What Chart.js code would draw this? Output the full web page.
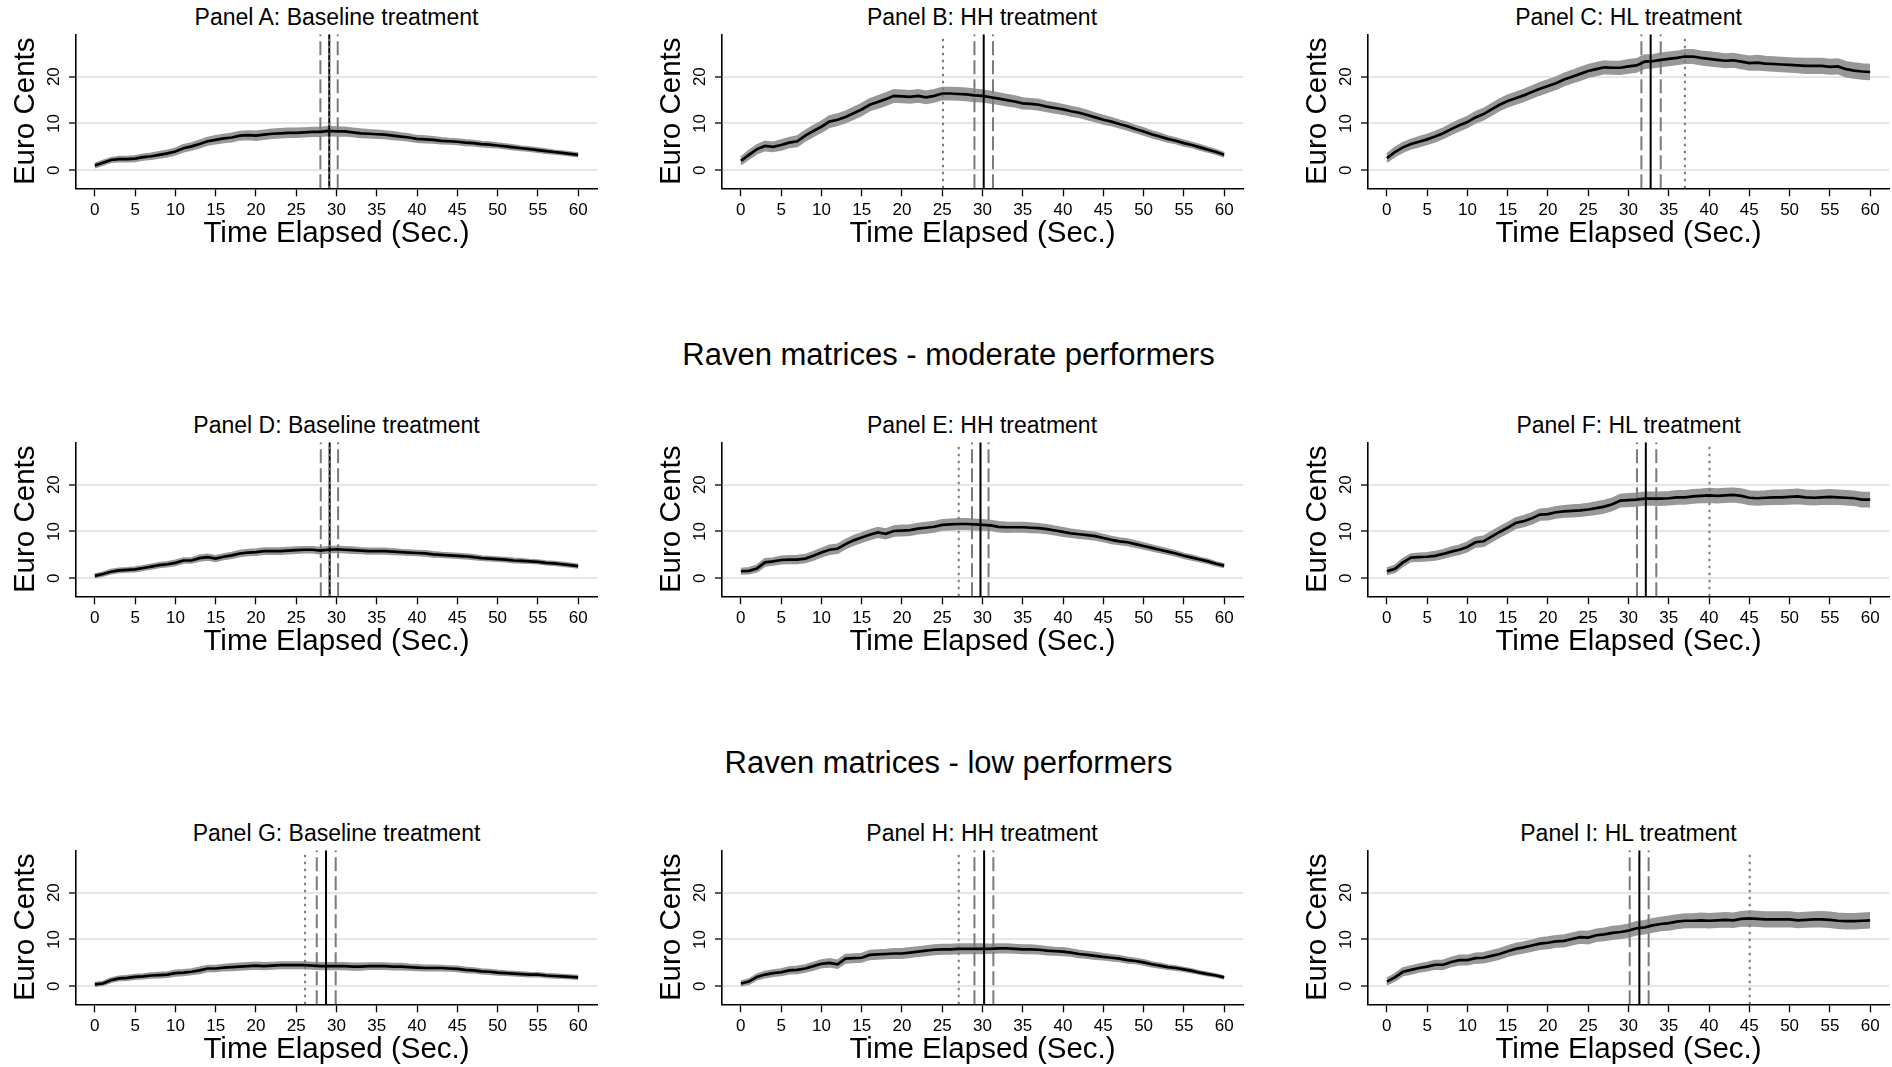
<!DOCTYPE html>
<html>
<head>
<meta charset="utf-8">
<script src="https://cdn.jsdelivr.net/npm/chart.js@4.4.1/dist/chart.umd.min.js"></script>
<style>
  html, body { margin: 0; padding: 0; background: #fff; }
  body { width: 1892px; height: 1067px; overflow: hidden; position: relative; font-family: 'Liberation Sans', Arial, sans-serif; color: #000; }
  .panel { position: absolute; }
  .ttl { position: absolute; transform: translate(-50%, -50%); white-space: nowrap; line-height: 1; }
  .ptitle { font-size: 23px; }
  .stitle { font-size: 31px; }
</style>
</head>
<body>
<script>
// ---------- DATA ----------
const TIME = [0,1,2,3,4,5,6,7,8,9,10,11,12,13,14,15,16,17,18,19,20,21,22,23,24,25,26,27,28,29,30,
              31,32,33,34,35,36,37,38,39,40,41,42,43,44,45,46,47,48,49,50,51,52,53,54,55,56,57,58,59,60];
const X_TICKS = [0,5,10,15,20,25,30,35,40,45,50,55,60];
const Y_TICKS = [0,10,20];

const SECTION_TITLES = ["Raven matrices - moderate performers", "Raven matrices - low performers"];
const PANEL_TITLES = ["Panel A: Baseline treatment","Panel B: HH treatment","Panel C: HL treatment",
                      "Panel D: Baseline treatment","Panel E: HH treatment","Panel F: HL treatment",
                      "Panel G: Baseline treatment","Panel H: HH treatment","Panel I: HL treatment"];

// mean earnings (Euro cents) per second
const MEAN_A = [1.0,1.6,2.2,2.4,2.4,2.5,2.8,3.0,3.3,3.6,4.0,4.7,5.1,5.6,6.2,6.5,6.8,7.0,7.4,7.5,7.4,7.6,7.8,7.9,8.0,8.0,8.1,8.2,8.2,8.4,8.3,
                8.3,8.1,7.9,7.8,7.7,7.6,7.4,7.2,7.0,6.7,6.6,6.5,6.3,6.2,6.1,5.9,5.8,5.6,5.5,5.3,5.1,4.9,4.7,4.5,4.3,4.1,3.9,3.7,3.5,3.3];
const MEAN_B = [2.0,3.3,4.5,5.2,5.0,5.4,5.9,6.2,7.4,8.4,9.3,10.4,10.8,11.4,12.2,13.0,14.0,14.6,15.2,15.9,15.8,15.7,15.9,15.6,15.9,16.4,16.4,16.3,16.2,16.0,15.9,
                15.6,15.3,15.0,14.7,14.3,14.2,14.0,13.6,13.3,13.0,12.6,12.3,11.8,11.3,10.8,10.4,9.9,9.4,8.8,8.3,7.7,7.2,6.7,6.3,5.8,5.4,4.9,4.4,3.9,3.3];
const MEAN_C = [2.6,3.9,4.9,5.6,6.1,6.6,7.2,7.9,8.8,9.6,10.3,11.3,12.0,13.0,14.0,14.8,15.4,16.0,16.7,17.4,18.0,18.6,19.4,20.0,20.6,21.2,21.6,22.0,21.9,21.9,22.2,
                22.4,23.2,23.3,23.6,23.8,24.0,24.3,24.3,24.0,23.8,23.6,23.4,23.5,23.2,22.9,23.0,22.8,22.7,22.6,22.5,22.4,22.3,22.3,22.3,22.1,22.2,21.6,21.3,21.1,21.0];
const MEAN_D = [0.5,0.9,1.4,1.7,1.8,1.9,2.2,2.5,2.8,3.0,3.3,3.8,3.8,4.3,4.5,4.2,4.6,4.9,5.3,5.5,5.6,5.8,5.8,5.8,5.9,6.0,6.1,6.1,5.9,6.1,6.2,
                6.1,6.0,5.9,5.8,5.8,5.8,5.7,5.6,5.5,5.4,5.3,5.1,5.0,4.9,4.8,4.7,4.5,4.3,4.2,4.1,4.0,3.8,3.7,3.6,3.5,3.3,3.2,3.0,2.8,2.6];
const MEAN_E = [1.5,1.6,2.1,3.4,3.6,3.9,4.0,4.0,4.2,4.8,5.5,6.1,6.3,7.3,8.1,8.7,9.3,9.8,9.5,10.1,10.2,10.3,10.6,10.8,11.0,11.4,11.5,11.6,11.6,11.5,11.4,
                11.3,11.0,10.9,10.9,10.9,10.8,10.7,10.5,10.2,9.9,9.6,9.4,9.2,9.0,8.6,8.2,7.9,7.7,7.3,6.9,6.5,6.1,5.7,5.3,4.8,4.4,4.0,3.6,3.1,2.7];
const MEAN_F = [1.5,2.0,3.4,4.4,4.5,4.6,4.8,5.2,5.7,6.1,6.7,7.7,7.9,8.9,9.9,10.8,11.8,12.2,12.8,13.6,13.7,14.1,14.3,14.4,14.5,14.7,15.0,15.3,15.8,16.6,16.7,
                16.8,17.0,17.0,17.0,17.1,17.3,17.3,17.5,17.6,17.7,17.6,17.7,17.8,17.6,17.2,17.1,17.2,17.3,17.3,17.4,17.5,17.3,17.2,17.3,17.4,17.3,17.2,17.1,16.8,16.8];
const MEAN_G = [0.4,0.6,1.3,1.7,1.8,2.0,2.1,2.3,2.4,2.5,2.8,2.9,3.1,3.4,3.8,3.8,4.0,4.1,4.2,4.3,4.4,4.3,4.4,4.5,4.5,4.5,4.5,4.4,4.3,4.3,4.3,
                4.3,4.2,4.2,4.3,4.3,4.3,4.2,4.2,4.1,4.0,3.9,3.9,3.9,3.8,3.7,3.5,3.4,3.2,3.1,2.9,2.8,2.7,2.6,2.5,2.5,2.3,2.2,2.1,2.0,1.9];
const MEAN_H = [0.6,1.0,2.0,2.5,2.8,3.0,3.4,3.5,3.8,4.3,4.8,5.0,4.7,5.9,6.0,6.1,6.7,6.8,6.9,7.0,7.0,7.2,7.4,7.6,7.8,7.9,7.9,8.0,8.0,8.0,8.0,
                8.0,8.1,8.1,8.0,7.9,7.9,7.8,7.6,7.5,7.4,7.2,6.9,6.7,6.5,6.3,6.1,5.9,5.6,5.4,5.1,4.7,4.4,4.1,3.9,3.6,3.3,2.9,2.6,2.3,1.9];
const MEAN_I = [1.0,1.9,3.1,3.5,3.9,4.2,4.6,4.6,5.2,5.6,5.6,6.0,6.1,6.5,6.9,7.5,8.0,8.3,8.7,9.1,9.3,9.6,9.7,10.1,10.5,10.4,10.9,11.1,11.4,11.6,11.9,
                12.4,12.6,13.0,13.3,13.5,13.8,14.0,14.0,14.1,14.0,14.1,14.2,14.1,14.4,14.5,14.4,14.3,14.3,14.3,14.3,14.1,14.2,14.3,14.3,14.2,14.0,13.9,13.9,14.0,14.1];

// half-width of the confidence band per second
const HW_A = [0.35,0.4,0.4,0.45,0.45,0.5,0.5,0.55,0.55,0.6,0.6,0.65,0.65,0.7,0.7,0.75,0.75,0.8,0.8,0.8,0.85,0.85,0.85,0.85,0.85,0.85,0.85,0.85,0.85,0.85,0.85,
              0.8,0.8,0.8,0.75,0.75,0.7,0.7,0.65,0.65,0.6,0.6,0.55,0.55,0.5,0.5,0.5,0.45,0.45,0.45,0.4,0.4,0.4,0.35,0.35,0.35,0.35,0.3,0.3,0.3,0.3];
const HW_B = [0.7,0.8,0.85,0.9,0.9,0.95,0.95,1.0,1.0,1.05,1.05,1.1,1.1,1.1,1.15,1.15,1.15,1.2,1.2,1.2,1.2,1.2,1.2,1.2,1.2,1.2,1.2,1.2,1.2,1.2,1.15,
              1.15,1.1,1.1,1.05,1.05,1.0,1.0,0.95,0.95,0.9,0.9,0.85,0.85,0.8,0.8,0.75,0.7,0.7,0.65,0.65,0.6,0.6,0.55,0.5,0.5,0.45,0.45,0.4,0.4,0.35];
const HW_C = [0.8,0.85,0.9,0.9,0.95,0.95,1.0,1.0,1.0,1.05,1.05,1.05,1.1,1.1,1.1,1.15,1.15,1.15,1.15,1.2,1.2,1.2,1.2,1.2,1.25,1.25,1.25,1.25,1.25,1.3,1.3,
              1.3,1.3,1.3,1.3,1.3,1.3,1.35,1.35,1.35,1.35,1.35,1.35,1.35,1.35,1.35,1.4,1.4,1.4,1.4,1.4,1.4,1.45,1.45,1.45,1.45,1.45,1.5,1.5,1.5,1.5];
const HW_D = [0.3,0.3,0.35,0.35,0.35,0.4,0.4,0.4,0.4,0.45,0.45,0.45,0.45,0.5,0.5,0.5,0.5,0.5,0.55,0.55,0.55,0.55,0.55,0.55,0.55,0.55,0.55,0.55,0.55,0.55,0.55,
              0.55,0.55,0.5,0.5,0.5,0.5,0.5,0.45,0.45,0.45,0.45,0.45,0.4,0.4,0.4,0.4,0.4,0.35,0.35,0.35,0.35,0.35,0.35,0.3,0.3,0.3,0.3,0.3,0.3,0.3];
const HW_E = [0.5,0.55,0.6,0.65,0.65,0.7,0.7,0.75,0.75,0.8,0.8,0.85,0.85,0.85,0.9,0.9,0.9,0.95,0.95,0.95,1.0,1.0,1.0,1.0,1.0,1.0,1.0,1.0,1.0,1.0,1.0,
              0.95,0.95,0.95,0.9,0.9,0.9,0.85,0.85,0.8,0.8,0.75,0.75,0.7,0.7,0.65,0.65,0.6,0.6,0.55,0.55,0.5,0.5,0.45,0.45,0.4,0.4,0.35,0.35,0.3,0.3];
const HW_F = [0.6,0.65,0.7,0.7,0.75,0.75,0.8,0.8,0.85,0.85,0.9,0.9,0.95,0.95,1.0,1.0,1.0,1.05,1.05,1.05,1.1,1.1,1.1,1.15,1.15,1.15,1.2,1.2,1.2,1.2,1.25,
              1.25,1.25,1.25,1.3,1.3,1.3,1.3,1.3,1.3,1.35,1.35,1.35,1.35,1.35,1.35,1.35,1.35,1.4,1.4,1.4,1.4,1.4,1.4,1.4,1.4,1.4,1.4,1.4,1.4,1.4];
const HW_G = [0.3,0.3,0.35,0.35,0.4,0.4,0.4,0.45,0.45,0.45,0.5,0.5,0.5,0.55,0.55,0.55,0.55,0.6,0.6,0.6,0.6,0.6,0.6,0.6,0.6,0.6,0.6,0.6,0.6,0.6,0.6,
              0.6,0.6,0.6,0.55,0.55,0.55,0.55,0.55,0.5,0.5,0.5,0.5,0.45,0.45,0.45,0.45,0.4,0.4,0.4,0.4,0.35,0.35,0.35,0.35,0.3,0.3,0.3,0.3,0.3,0.3];
const HW_H = [0.4,0.45,0.5,0.55,0.55,0.6,0.6,0.65,0.65,0.7,0.7,0.75,0.75,0.8,0.8,0.8,0.85,0.85,0.85,0.9,0.9,0.9,0.9,0.9,0.9,0.9,0.9,0.9,0.9,0.9,0.9,
              0.85,0.85,0.85,0.8,0.8,0.8,0.75,0.75,0.7,0.7,0.65,0.65,0.6,0.6,0.55,0.55,0.5,0.5,0.45,0.45,0.4,0.4,0.35,0.35,0.3,0.3,0.25,0.25,0.2,0.2];
const HW_I = [0.6,0.65,0.7,0.75,0.75,0.8,0.8,0.85,0.85,0.9,0.9,0.95,0.95,1.0,1.0,1.0,1.05,1.05,1.05,1.1,1.1,1.1,1.15,1.15,1.15,1.2,1.2,1.2,1.25,1.25,1.25,
              1.3,1.3,1.3,1.3,1.35,1.35,1.35,1.35,1.4,1.4,1.4,1.4,1.4,1.4,1.45,1.45,1.45,1.45,1.45,1.45,1.45,1.45,1.45,1.5,1.5,1.5,1.5,1.5,1.5,1.5];

// vertical reference lines (seconds): [dashed low, solid, dashed high, dotted]
const VL_A = [28.0, 29.1, 30.15, 29.1];
const VL_B = [29.0, 30.15, 31.3, 25.1];
const VL_C = [31.6, 32.75, 34.0, 37.0];
const VL_D = [28.05, 29.15, 30.2, 29.15];
const VL_E = [28.7, 29.75, 30.75, 27.05];
const VL_F = [31.05, 32.15, 33.45, 40.05];
const VL_G = [27.55, 28.7, 29.9, 26.1];
const VL_H = [29.0, 30.2, 31.35, 27.05];
const VL_I = [30.15, 31.35, 32.5, 45.05];

const MEANS = [MEAN_A, MEAN_B, MEAN_C, MEAN_D, MEAN_E, MEAN_F, MEAN_G, MEAN_H, MEAN_I];
const HWS   = [HW_A, HW_B, HW_C, HW_D, HW_E, HW_F, HW_G, HW_H, HW_I];
const VLS   = [VL_A, VL_B, VL_C, VL_D, VL_E, VL_F, VL_G, VL_H, VL_I];

// ---------- LAYOUT ----------
const X_MIN = -2.34, X_MAX = 62.34, Y_MIN = -3.85, Y_MAX = 29.05;
const COL_AXIS = [76, 721.5, 1368];
const PLOT_W = 521;
const ROW_STEP = 408;
const PLOT_TOP = 34.3, PLOT_BOTTOM = 188.3;
const CANVAS_H = 252;
const LEFT_W = 76, RIGHT_PAD = 3;
const FONT = "'Liberation Sans', Arial, sans-serif";
const BAND = '#989898';

Chart.defaults.font.family = FONT;
Chart.defaults.color = '#000';

function addText(cls, text, x, y) {
  const d = document.createElement('div');
  d.className = 'ttl ' + cls;
  d.textContent = text;
  d.style.left = x + 'px';
  d.style.top = y + 'px';
  document.body.appendChild(d);
}

SECTION_TITLES.forEach((t, i) => addText('stitle', t, 948.5, 354 + ROW_STEP * i));

for (let p = 0; p < 9; p++) {
  const r = Math.floor(p / 3), c = p % 3;
  const left = COL_AXIS[c] - LEFT_W;
  const top = ROW_STEP * r;
  const w = LEFT_W + PLOT_W + RIGHT_PAD;

  addText('ptitle', PANEL_TITLES[p], COL_AXIS[c] + PLOT_W / 2, top + 17);

  const wrap = document.createElement('div');
  wrap.className = 'panel';
  wrap.style.left = left + 'px';
  wrap.style.top = top + 'px';
  wrap.style.width = w + 'px';
  wrap.style.height = CANVAS_H + 'px';
  const cv = document.createElement('canvas');
  cv.width = w; cv.height = CANVAS_H;
  cv.style.width = w + 'px'; cv.style.height = CANVAS_H + 'px';
  wrap.appendChild(cv);
  document.body.appendChild(wrap);

  const mean = MEANS[p], hw = HWS[p], vl = VLS[p];
  const meanPts = TIME.map((t, i) => ({x: t, y: mean[i]}));
  const loPts = TIME.map((t, i) => ({x: t, y: mean[i] - hw[i]}));
  const hiPts = TIME.map((t, i) => ({x: t, y: mean[i] + hw[i]}));
  const vline = (v) => [{x: v, y: Y_MIN}, {x: v, y: Y_MAX}];

  const base = {pointRadius: 0, pointHoverRadius: 0, tension: 0, fill: false};
  const datasets = [
    Object.assign({}, base, {data: meanPts, borderColor: '#000', borderWidth: 2.7, order: 0}),
    Object.assign({}, base, {data: vline(vl[3]), borderColor: '#7a7a7a', borderWidth: 2, borderDash: [2.5, 4.5], order: 1}),
    Object.assign({}, base, {data: vline(vl[1]), borderColor: '#000', borderWidth: 2, order: 1}),
    Object.assign({}, base, {data: vline(vl[0]), borderColor: '#7a7a7a', borderWidth: 2, borderDash: [14, 5], order: 1}),
    Object.assign({}, base, {data: vline(vl[2]), borderColor: '#7a7a7a', borderWidth: 2, borderDash: [14, 5], order: 1}),
    Object.assign({}, base, {data: loPts, borderWidth: 2.5, borderColor: BAND, order: 2}),
    Object.assign({}, base, {data: hiPts, borderWidth: 2.5, borderColor: BAND, backgroundColor: BAND, fill: '-1', order: 2})
  ];

  new Chart(cv, {
    type: 'line',
    data: {datasets},
    options: {
      responsive: false,
      animation: false,
      events: [],
      devicePixelRatio: 1,
      layout: {padding: {top: PLOT_TOP, right: RIGHT_PAD, left: 0, bottom: 0}},
      plugins: {legend: {display: false}, tooltip: {enabled: false}, title: {display: false}},
      scales: {
        x: {
          type: 'linear', min: X_MIN, max: X_MAX,
          afterBuildTicks: (s) => { s.ticks = X_TICKS.map(v => ({value: v})); },
          afterFit: (s) => { s.height = CANVAS_H - PLOT_BOTTOM; },
          grid: {drawOnChartArea: false, drawTicks: true, tickLength: 8, tickColor: '#000', tickWidth: 1.3},
          border: {display: true, color: '#000', width: 1.6},
          ticks: {autoSkip: false, maxRotation: 0, minRotation: 0, padding: 3.5, color: '#000', font: {size: 17}},
          title: {display: true, text: 'Time Elapsed (Sec.)', color: '#000', font: {size: 29.5}, padding: {top: 0, bottom: 0.3}}
        },
        y: {
          type: 'linear', min: Y_MIN, max: Y_MAX,
          afterBuildTicks: (s) => { s.ticks = Y_TICKS.map(v => ({value: v})); },
          afterFit: (s) => { s.width = LEFT_W; },
          grid: {color: '#e6e6e6', lineWidth: 2, drawTicks: true, tickLength: 7, tickColor: '#000', tickWidth: 1.3},
          border: {display: true, color: '#000', width: 1.6},
          ticks: {minRotation: 90, maxRotation: 90, crossAlign: 'center', padding: 5.5, color: '#000', font: {size: 17}},
          title: {display: true, text: 'Euro Cents', color: '#000', font: {size: 29.5}, padding: {top: 8.4, bottom: 0}}
        }
      }
    }
  });
}
</script>
</body>
</html>
